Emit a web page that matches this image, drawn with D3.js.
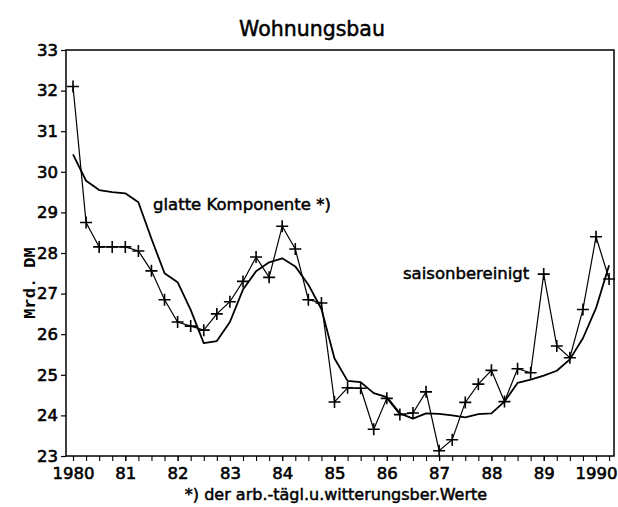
<!DOCTYPE html>
<html><head><meta charset="utf-8">
<script src="https://cdn.jsdelivr.net/npm/d3@7"></script>
<style>body{margin:0;background:#fff} svg{display:block}</style>
</head><body>
<svg id="c" width="618" height="507"></svg>
<script>
const quarters = [1980.00,1980.25,1980.50,1980.75,1981.00,1981.25,1981.50,1981.75,
  1982.00,1982.25,1982.50,1982.75,1983.00,1983.25,1983.50,1983.75,
  1984.00,1984.25,1984.50,1984.75,1985.00,1985.25,1985.50,1985.75,
  1986.00,1986.25,1986.50,1986.75,1987.00,1987.25,1987.50,1987.75,
  1988.00,1988.25,1988.50,1988.75,1989.00,1989.25,1989.50,1989.75,
  1990.00,1990.25];
const saisonbereinigt = [32.10,28.75,28.15,28.15,28.15,28.05,27.56,26.85,
  26.30,26.20,26.10,26.50,26.80,27.30,27.90,27.40,
  28.66,28.10,26.85,26.77,24.33,24.68,24.67,23.66,
  24.42,24.02,24.06,24.58,23.13,23.40,24.32,24.77,
  25.11,24.34,25.15,25.05,27.48,25.71,25.42,26.61,
  28.40,27.36];
const glatteKomponente = [30.43,29.78,29.55,29.50,29.47,29.25,28.35,27.50,
  27.28,26.60,25.78,25.83,26.30,27.10,27.55,27.77,
  27.87,27.67,27.22,26.62,25.40,24.85,24.82,24.55,
  24.45,24.05,23.92,24.05,24.04,24.00,23.95,24.03,
  24.05,24.34,24.80,24.88,24.98,25.10,25.38,25.90,
  26.64,27.70];
const yTicks = [23,24,25,26,27,28,29,30,31,32,33];
const xTickYears = [1980,1981,1982,1983,1984,1985,1986,1987,1988,1989,1990];
const xTickLabels = ["1980","81","82","83","84","85","86","87","88","89","1990"];

const svg = d3.select("#c");
const L = 66, R = 614, T = 50, B = 456;
const x = d3.scaleLinear().domain([1979.866, 1990.344]).range([L, R]);
const y = d3.scaleLinear().domain([23, 33]).range([B, T]);
const font = "'DejaVu Sans', sans-serif";

// frame
svg.append("rect").attr("x", L).attr("y", T).attr("width", R - L).attr("height", B - T)
  .attr("fill", "none").attr("stroke", "#000").attr("stroke-width", 1.5);

// y axis
const yAxis = svg.append("g").attr("transform", `translate(${L},0)`)
  .call(d3.axisLeft(y).tickValues(yTicks).tickSize(5).tickPadding(3).tickFormat(d3.format("d")));
yAxis.select(".domain").remove();
yAxis.selectAll("line").attr("stroke-width", 1.2);
yAxis.selectAll("text").attr("font-family", font).attr("font-size", 16.5)
  .attr("fill", "#000").attr("stroke", "#000").attr("stroke-width", 0.6);

// x axis minor (quarterly) ticks
const xMinor = svg.append("g").attr("transform", `translate(0,${B})`)
  .call(d3.axisBottom(x).tickValues(quarters).tickSize(5).tickFormat(""));
xMinor.select(".domain").remove();
xMinor.selectAll("line").attr("stroke-width", 1.1);

const xAxis = svg.append("g").attr("transform", `translate(0,${B})`)
  .call(d3.axisBottom(x).tickValues(xTickYears).tickSize(5).tickPadding(6)
    .tickFormat((d, i) => xTickLabels[i]));
xAxis.select(".domain").remove();
xAxis.selectAll("line").attr("stroke-width", 1.1);
xAxis.selectAll("text").attr("font-family", font).attr("font-size", 16.5)
  .attr("fill", "#000").attr("stroke", "#000").attr("stroke-width", 0.6);

// smooth line
svg.append("path").datum(glatteKomponente)
  .attr("fill", "none").attr("stroke", "#000").attr("stroke-width", 1.8)
  .attr("stroke-linejoin", "round")
  .attr("d", d3.line().x((d, i) => x(quarters[i])).y(d => y(d)));

// seasonally adjusted line
svg.append("path").datum(saisonbereinigt)
  .attr("fill", "none").attr("stroke", "#000").attr("stroke-width", 1.2)
  .attr("d", d3.line().x((d, i) => x(quarters[i])).y(d => y(d)));

// + markers
svg.append("g").selectAll("path.m").data(saisonbereinigt).join("path")
  .attr("class", "m")
  .attr("transform", (d, i) => `translate(${x(quarters[i])},${y(d)})`)
  .attr("d", "M-6,0H6M0,-6V6")
  .attr("stroke", "#000").attr("stroke-width", 1.6).attr("fill", "none");

// title
svg.append("text").attr("x", 312).attr("y", 36).attr("text-anchor", "middle")
  .attr("font-family", font).attr("font-size", 20.5).attr("fill", "#000")
  .attr("stroke", "#000").attr("stroke-width", 0.5)
  .text("Wohnungsbau");

// annotations
svg.append("text").attr("x", 153).attr("y", 210)
  .attr("font-family", font).attr("font-size", 16.5).attr("fill", "#000")
  .attr("stroke", "#000").attr("stroke-width", 0.5)
  .text("glatte Komponente *)");
svg.append("text").attr("x", 403).attr("y", 279)
  .attr("font-family", font).attr("font-size", 16.5).attr("fill", "#000")
  .attr("stroke", "#000").attr("stroke-width", 0.5)
  .text("saisonbereinigt");

// x axis title
svg.append("text").attr("x", 336).attr("y", 500).attr("text-anchor", "middle")
  .attr("font-family", font).attr("font-size", 16).attr("fill", "#000")
  .attr("stroke", "#000").attr("stroke-width", 0.5)
  .text("*) der arb.-tägl.u.witterungsber.Werte");

// y axis title
svg.append("text").attr("transform", "translate(35,283) rotate(-90)")
  .attr("text-anchor", "middle")
  .attr("font-family", "'Liberation Mono', 'Courier New', monospace")
  .attr("font-size", 17).attr("font-weight", "bold").attr("fill", "#000")
  .text("Mrd. DM");
</script>
</body></html>
